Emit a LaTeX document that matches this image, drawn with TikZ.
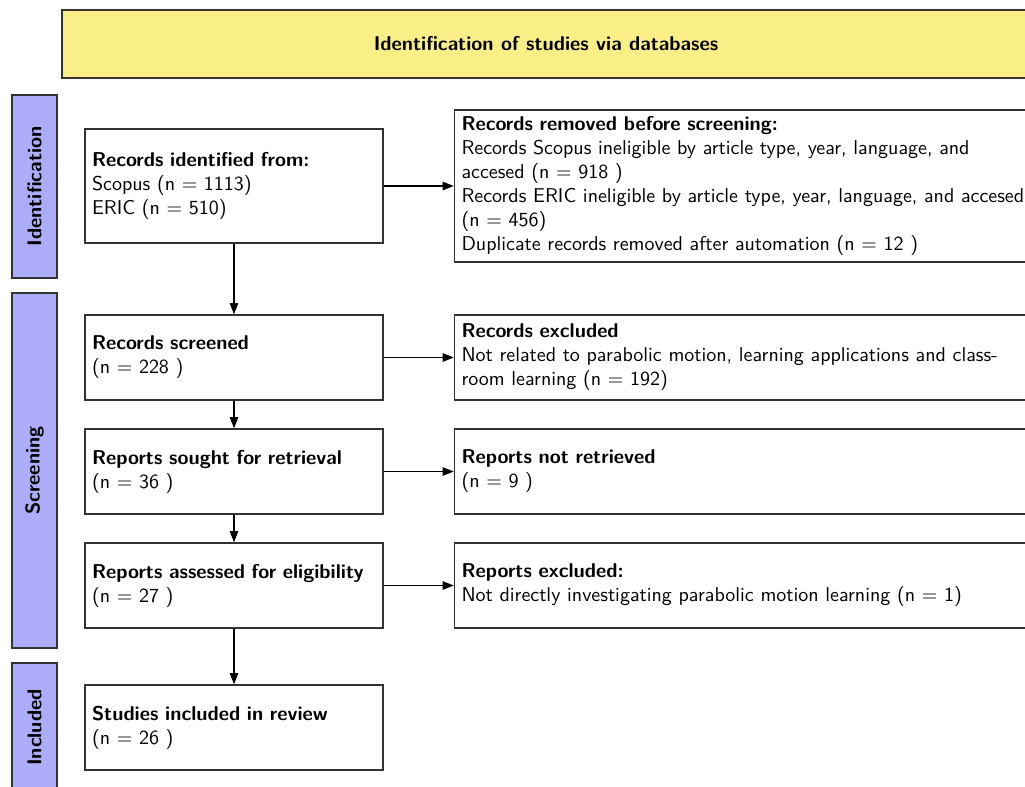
\documentclass[tikz,border=0pt]{standalone}
\usepackage{tikz}
\usetikzlibrary{arrows.meta}
\definecolor{bannercol}{RGB}{250,238,135}
\definecolor{stagecol}{RGB}{172,172,248}
\tikzset{>/.tip={Triangle[length=5.5pt,width=4.2pt]},
  flowbox/.style={draw=black!80, line width=0.8pt, align=left, font=\sffamily,
    minimum height=42.5pt},
  leftbox/.style={flowbox, text width=142pt, minimum width=149pt},
  rightbox/.style={flowbox, text width=290pt, minimum width=297pt},
  stagebar/.style={draw=black!80, line width=0.8pt, fill=stagecol,
    minimum height=22.5pt, rotate=90, font=\sffamily\bfseries}}

\begin{document}
\begin{tikzpicture}[x=0.5pt, y=-0.5pt]
\clip (0,0) rectangle (1025,787);
\useasboundingbox (0,0) rectangle (1025,787);

% banner
\node[draw=black!80, line width=0.8pt, fill=bannercol, minimum width=484pt,
  minimum height=34pt, font=\sffamily\bfseries] (banner) at (546,44)
  {Identification of studies via databases};

% stages
\node[stagebar, minimum width=91.5pt] (ident) at (34.5,186.5) {Identification};
\node[stagebar, minimum width=177.5pt] (screen) at (34.5,470.5) {Screening};
\node[stagebar, minimum width=64.5pt] (incl) at (34.5,727.5) {Included};

% main column
\node[leftbox, minimum height=57pt] (ident1) at (234,186)
  {\textbf{Records identified from:}\\Scopus (n = 1113)\\ERIC (n = 510)};
\node[leftbox] (screen1) at (234,357.5)
  {\textbf{Records screened}\\(n = 228 )};
\node[leftbox] (sought) at (234,471.5)
  {\textbf{Reports sought for retrieval}\\(n = 36 )};
\node[leftbox] (assess) at (234,585.5)
  {\textbf{Reports assessed for eligibility}\\(n = 27 )};
\node[leftbox] (incl1) at (234,727.5)
  {\textbf{Studies included in review}\\(n = 26 )};

% side column
\node[rightbox, minimum height=76pt] (removed) at (751.5,186)
  {\textbf{Records removed before screening:}\\
   Records Scopus ineligible by article type, year, language, and\\
   accesed (n = 918 )\\
   Records ERIC ineligible by article type, year, language, and accesed\\
   (n = 456)\\
   Duplicate records removed after automation (n = 12 )};
\node[rightbox] (excl) at (751.5,357.5)
  {\textbf{Records excluded}\\
   Not related to parabolic motion, learning applications and class-\\
   room learning (n = 192)};
\node[rightbox] (notret) at (751.5,471.5)
  {\textbf{Reports not retrieved}\\(n = 9 )};
\node[rightbox] (repexcl) at (751.5,585.5)
  {\textbf{Reports excluded:}\\
   Not directly investigating parabolic motion learning (n = 1)};

\draw[->, line width=0.6pt] (ident1) -- (screen1);
\draw[->, line width=0.6pt] (screen1) -- (sought);
\draw[->, line width=0.6pt] (sought) -- (assess);
\draw[->, line width=0.6pt] (assess) -- (incl1);
\draw[->, line width=0.6pt] (ident1) -- (removed);
\draw[->, line width=0.6pt] (screen1) -- (excl);
\draw[->, line width=0.6pt] (sought) -- (notret);
\draw[->, line width=0.6pt] (assess) -- (repexcl);
\end{tikzpicture}
\end{document}
